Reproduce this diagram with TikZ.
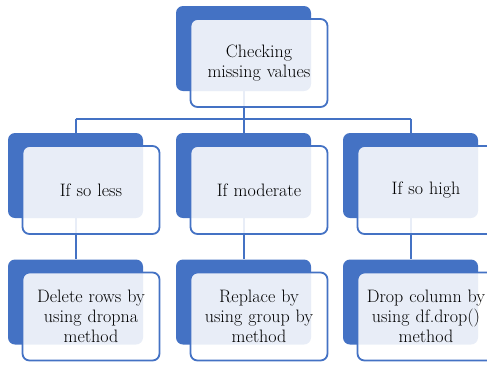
\documentclass[tikz,border=0pt]{standalone}
\usetikzlibrary{positioning,backgrounds}
\definecolor{boxblue}{HTML}{4472C4}
\def\myfont{\fontsize{18}{20}\selectfont}

\begin{document}
\begin{tikzpicture}[x=1pt, y=-1pt,
    back/.style={fill=boxblue, rounded corners=7pt, minimum width=135pt, minimum height=85pt, inner sep=0pt},
    front/.style={draw=boxblue, line width=1.8pt, fill=white, fill opacity=0.88, text opacity=1, rounded corners=7pt, minimum width=137pt, minimum height=88pt, text width=134pt, align=center, inner sep=0pt, font=\myfont, text=black},
    conn/.style={draw=boxblue, line width=2pt}]
    \clip (0,0) rectangle (487,365);

    % Back plates
    \node (b0) at (243.5,48.5) [back] {};
    \node (b1) at (75.5,175.5) [back] {};
    \node (b2) at (243.5,175.5) [back] {};
    \node (b3) at (410.5,175.5) [back] {};
    \node (b4) at (75.5,302) [back] {};
    \node (b5) at (243.5,302) [back] {};
    \node (b6) at (410.5,302) [back] {};

    % Nodes
    \node (top) at ([shift={(15.5,14.5)}]b0) [front] {Checking\\missing values};
    \node (less) at ([shift={(15.5,14.5)}]b1) [front] {If so less};
    \node (moderate) at ([shift={(15.5,14.5)}]b2) [front] {If moderate};
    \node (high) at ([shift={(15.5,14.5)}]b3) [front] {If so high};
    \node (dropna) at ([shift={(15.5,14.5)}]b4) [front] {Delete rows by\\using dropna\\method};
    \node (group) at ([shift={(15.5,14.5)}]b5) [front] {Replace by\\using group by\\method};
    \node (dfdrop) at ([shift={(15.5,14.5)}]b6) [front] {Drop column by\\using df.drop()\\method};

    % Connectors
    \coordinate (bus) at (0,118.5);
    \begin{pgfonlayer}{background}
        \draw[conn] (b0.center) -- (b0 |- bus);
        \draw[conn] (b1 |- bus) -- (b3 |- bus);
        \draw[conn] (b1 |- bus) -- (b1.north);
        \draw[conn] (b2 |- bus) -- (b2.north);
        \draw[conn] (b3 |- bus) -- (b3.north);
        \draw[conn] (b1.center) -- (b4.north);
        \draw[conn] (b2.center) -- (b5.north);
        \draw[conn] (b3.center) -- (b6.north);
    \end{pgfonlayer}
\end{tikzpicture}
\end{document}
